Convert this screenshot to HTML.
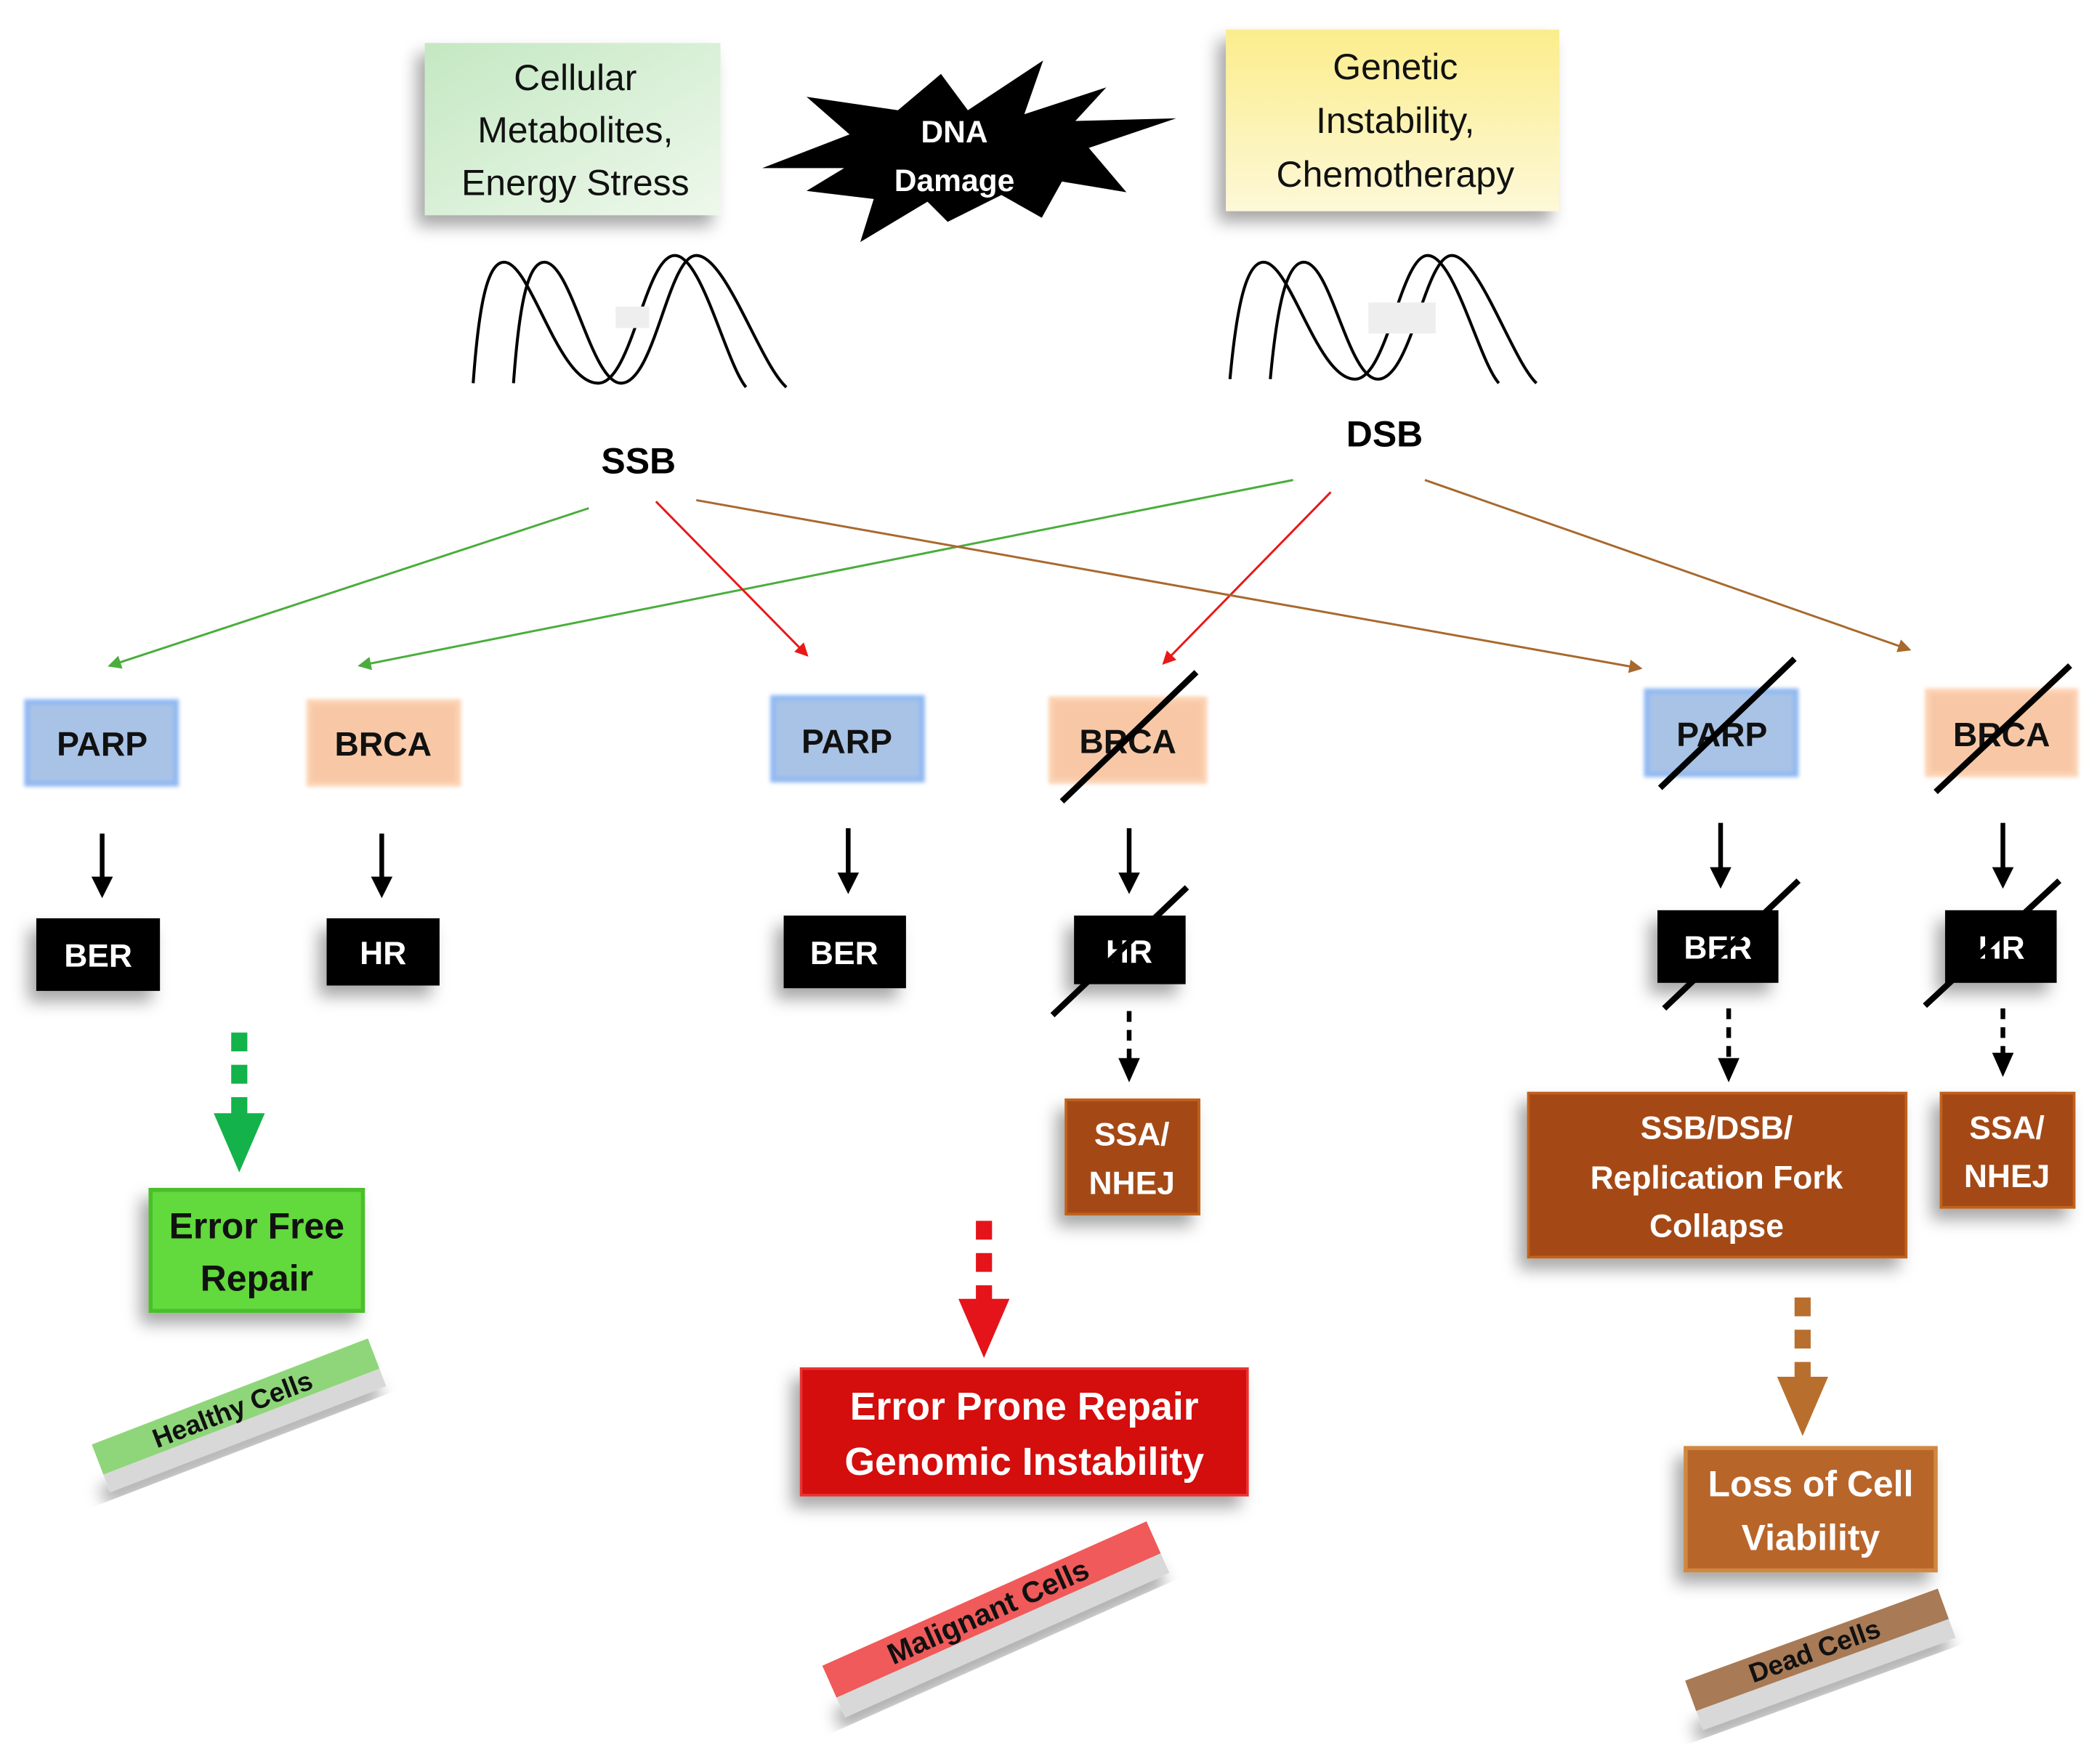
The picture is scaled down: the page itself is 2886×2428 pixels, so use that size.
<!DOCTYPE html>
<html><head><meta charset="utf-8"><style>html,body{margin:0;padding:0;background:#fff}svg{display:block}</style></head><body>
<svg width="2886" height="2428" viewBox="0 0 1560 1312" preserveAspectRatio="none" xmlns="http://www.w3.org/2000/svg" font-family="'Liberation Sans', sans-serif">
<defs>
<linearGradient id="gg" x1="0" y1="0" x2="1" y2="1"><stop offset="0" stop-color="#c4e8c2"/><stop offset="1" stop-color="#eef8ec"/></linearGradient>
<linearGradient id="yg" x1="0" y1="0" x2="0" y2="1"><stop offset="0" stop-color="#fbed8c"/><stop offset="1" stop-color="#fdf8d8"/></linearGradient>
<filter id="sh" x="-30%" y="-30%" width="160%" height="170%"><feDropShadow dx="-6" dy="8" stdDeviation="6" flood-color="#000" flood-opacity="0.35"/></filter>
<filter id="gl" x="-20%" y="-20%" width="140%" height="140%"><feGaussianBlur stdDeviation="1.5"/></filter>
<marker id="ag" markerWidth="10" markerHeight="10" refX="8" refY="5" orient="auto" markerUnits="userSpaceOnUse" viewBox="0 0 10 10"><path d="M0,0L10,5L0,10z" fill="#4aad3c"/></marker>
<marker id="ar" markerWidth="10" markerHeight="10" refX="8" refY="5" orient="auto" markerUnits="userSpaceOnUse" viewBox="0 0 10 10"><path d="M0,0L10,5L0,10z" fill="#e81818"/></marker>
<marker id="ab" markerWidth="10" markerHeight="10" refX="8" refY="5" orient="auto" markerUnits="userSpaceOnUse" viewBox="0 0 10 10"><path d="M0,0L10,5L0,10z" fill="#a8692e"/></marker>
</defs>
<rect width="1560" height="1312" fill="#fff"/>
<rect x="316" y="32" width="220" height="128" fill="url(#gg)" filter="url(#sh)"/>
<g font-size="27" text-anchor="middle" fill="#111"><text x="428" y="67">Cellular</text><text x="428" y="106">Metabolites,</text><text x="428" y="145">Energy Stress</text></g>
<rect x="912" y="22" width="248" height="135" fill="url(#yg)" filter="url(#sh)"/>
<g font-size="27" text-anchor="middle" fill="#111"><text x="1038" y="59">Genetic</text><text x="1038" y="99">Instability,</text><text x="1038" y="139">Chemotherapy</text></g>
<path d="M567,125 L632,100 L600,72 L668,82 L700,55 L720,82 L776,45 L762,85 L823,65 L800,90 L875,88 L810,110 L838,143 L790,135 L775,162 L745,145 L705,165 L690,150 L640,180 L650,148 L600,142 L628,125 Z" fill="#000"/>
<g font-size="23" font-weight="bold" text-anchor="middle" fill="#fff"><text x="710" y="106">DNA</text><text x="710" y="142">Damage</text></g>
<g fill="none" stroke="#000" stroke-width="2.2">
<path d="M352,285 C356,230 362,195 375,195 C395,195 415,285 445,285 C470,285 480,190 502,190 C522,190 540,270 555,288"/>
<path d="M382,285 C386,230 392,195 405,195 C425,195 440,285 462,285 C487,285 497,190 518,190 C540,190 565,270 585,288"/>
<path d="M915,282 C920,228 927,195 940,195 C960,195 980,282 1008,282 C1032,282 1042,190 1062,190 C1082,190 1100,268 1115,285"/>
<path d="M945,282 C950,228 957,195 970,195 C990,195 1003,282 1025,282 C1050,282 1060,190 1080,190 C1100,190 1125,268 1143,285"/>
</g>
<rect x="458" y="228" width="25" height="16" fill="#eee"/>
<rect x="1018" y="225" width="50" height="23" fill="#eee"/>
<g font-size="27" font-weight="bold" text-anchor="middle" fill="#000"><text x="475" y="352">SSB</text><text x="1030" y="332">DSB</text></g>
<g stroke-width="1.6" fill="none">
<line x1="438" y1="378" x2="82" y2="495" stroke="#4aad3c" marker-end="url(#ag)"/>
<line x1="962" y1="357" x2="268" y2="495" stroke="#4aad3c" marker-end="url(#ag)"/>
<line x1="488" y1="373" x2="600" y2="487" stroke="#e81818" marker-end="url(#ar)"/>
<line x1="990" y1="366" x2="866" y2="493" stroke="#e81818" marker-end="url(#ar)"/>
<line x1="518" y1="372" x2="1220" y2="497" stroke="#a8692e" marker-end="url(#ab)"/>
<line x1="1060" y1="357" x2="1420" y2="483" stroke="#a8692e" marker-end="url(#ab)"/>
</g>
<g stroke-width="4">
<rect x="20" y="522" width="111" height="61" fill="#a9c3e6" stroke="#8fb8f2" filter="url(#gl)"/>
<rect x="230" y="522" width="111" height="61" fill="#f8c8a6" stroke="#fcd2b2" filter="url(#gl)"/>
<rect x="575" y="519" width="111" height="61" fill="#a9c3e6" stroke="#8fb8f2" filter="url(#gl)"/>
<rect x="782" y="520" width="114" height="61" fill="#f8c8a6" stroke="#fcd2b2" filter="url(#gl)"/>
<rect x="1225" y="514" width="111" height="62" fill="#a9c3e6" stroke="#8fb8f2" filter="url(#gl)"/>
<rect x="1434" y="514" width="110" height="62" fill="#f8c8a6" stroke="#fcd2b2" filter="url(#gl)"/>
</g>
<g font-size="25" font-weight="bold" text-anchor="middle" fill="#111">
<text x="76" y="562">PARP</text><text x="285" y="562">BRCA</text><text x="630" y="560">PARP</text><text x="839" y="560">BRCA</text><text x="1281" y="555">PARP</text><text x="1489" y="555">BRCA</text>
</g>
<g stroke="#000" stroke-width="3.5">
<line x1="76" y1="620" x2="76" y2="655"/><line x1="284" y1="620" x2="284" y2="655"/><line x1="631" y1="616" x2="631" y2="652"/><line x1="840" y1="616" x2="840" y2="652"/><line x1="1280" y1="612" x2="1280" y2="648"/><line x1="1490" y1="612" x2="1490" y2="648"/>
</g>
<g fill="#000">
<path d="M68,652h16l-8,16z"/><path d="M276,652h16l-8,16z"/><path d="M623,649h16l-8,16z"/><path d="M832,649h16l-8,16z"/><path d="M1272,645h16l-8,16z"/><path d="M1482,645h16l-8,16z"/>
</g>
<g fill="#000" filter="url(#sh)">
<rect x="27" y="683" width="92" height="54"/><rect x="243" y="683" width="84" height="50"/><rect x="583" y="681" width="91" height="54"/><rect x="799" y="681" width="83" height="51"/><rect x="1233" y="677" width="90" height="54"/><rect x="1447" y="677" width="83" height="54"/>
</g>
<g font-size="24" font-weight="bold" text-anchor="middle" fill="#fff">
<text x="73" y="719">BER</text><text x="285" y="717">HR</text><text x="628" y="717">BER</text><text x="840" y="716">HR</text><text x="1278" y="713">BER</text><text x="1489" y="713">HR</text>
</g>
<g stroke="#000" stroke-width="4.5">
<line x1="790" y1="596" x2="890" y2="500"/><line x1="1235" y1="586" x2="1335" y2="490"/><line x1="1440" y1="589" x2="1540" y2="495"/>
<line x1="783" y1="755" x2="883" y2="660"/><line x1="1238" y1="750" x2="1338" y2="655"/><line x1="1432" y1="748" x2="1532" y2="655"/>
</g>
<g stroke="#000" stroke-width="3.5" stroke-dasharray="8,6">
<line x1="840" y1="752" x2="840" y2="790"/><line x1="1286" y1="750" x2="1286" y2="790"/><line x1="1490" y1="750" x2="1490" y2="786"/>
</g>
<g fill="#000"><path d="M832,787h16l-8,18z"/><path d="M1278,787h16l-8,18z"/><path d="M1482,783h16l-8,18z"/></g>
<g filter="url(#sh)" fill="#a44a12" stroke="#c0621f" stroke-width="2">
<rect x="793" y="818" width="99" height="85"/><rect x="1444" y="813" width="99" height="85"/><rect x="1137" y="813" width="281" height="122"/>
</g>
<g font-size="24" font-weight="bold" text-anchor="middle" fill="#fff">
<text x="842" y="852">SSA/</text><text x="842" y="888">NHEJ</text>
<text x="1493" y="847">SSA/</text><text x="1493" y="883">NHEJ</text>
<text x="1277" y="847">SSB/DSB/</text><text x="1277" y="884">Replication Fork</text><text x="1277" y="920">Collapse</text>
</g>
<g stroke="#14b24a" stroke-width="12" stroke-dasharray="14,10"><line x1="178" y1="768" x2="178" y2="830"/></g>
<path d="M159,828h38l-19,44z" fill="#14b24a"/>
<rect x="112" y="885" width="158" height="90" fill="#62d93e" stroke="#4cbf2a" stroke-width="3" filter="url(#sh)"/>
<g font-size="27" font-weight="bold" text-anchor="middle" fill="#111"><text x="191" y="921">Error Free</text><text x="191" y="960">Repair</text></g>
<g stroke="#e4141a" stroke-width="12" stroke-dasharray="14,10"><line x1="732" y1="908" x2="732" y2="968"/></g>
<path d="M713,966h38l-19,44z" fill="#e4141a"/>
<rect x="596" y="1018" width="332" height="94" fill="#d40a0a" stroke="#e83030" stroke-width="2" filter="url(#sh)"/>
<g font-size="29" font-weight="bold" text-anchor="middle" fill="#fff"><text x="762" y="1056">Error Prone Repair</text><text x="762" y="1097">Genomic Instability</text></g>
<g stroke="#b86f2e" stroke-width="12" stroke-dasharray="14,10"><line x1="1341" y1="965" x2="1341" y2="1026"/></g>
<path d="M1322,1024h38l-19,44z" fill="#b86f2e"/>
<rect x="1254" y="1077" width="186" height="91" fill="#b8652a" stroke="#d08840" stroke-width="3" filter="url(#sh)"/>
<g font-size="27" font-weight="bold" text-anchor="middle" fill="#fff"><text x="1347" y="1113">Loss of Cell</text><text x="1347" y="1153">Viability</text></g>
<g transform="translate(176,1048) rotate(-21)">
<rect x="-110" y="10" width="220" height="14" fill="#d8d8d8" filter="url(#sh)"/>
<rect x="-110" y="-14" width="220" height="24" fill="#8fd67a"/>
<text x="-3" y="6" font-size="20" font-weight="bold" text-anchor="middle" fill="#111">Healthy Cells</text>
</g>
<g transform="translate(738,1198) rotate(-24)">
<rect x="-132" y="12" width="264" height="16" fill="#d8d8d8" filter="url(#sh)"/>
<rect x="-132" y="-14" width="264" height="26" fill="#f05a5a"/>
<text x="-3" y="7" font-size="22" font-weight="bold" text-anchor="middle" fill="#111">Malignant Cells</text>
</g>
<g transform="translate(1352,1228) rotate(-20)">
<rect x="-100" y="11" width="200" height="15" fill="#d8d8d8" filter="url(#sh)"/>
<rect x="-100" y="-13" width="200" height="24" fill="#a87a55"/>
<text x="-2" y="6" font-size="20" font-weight="bold" text-anchor="middle" fill="#111">Dead Cells</text>
</g>
</svg>
</body></html>
